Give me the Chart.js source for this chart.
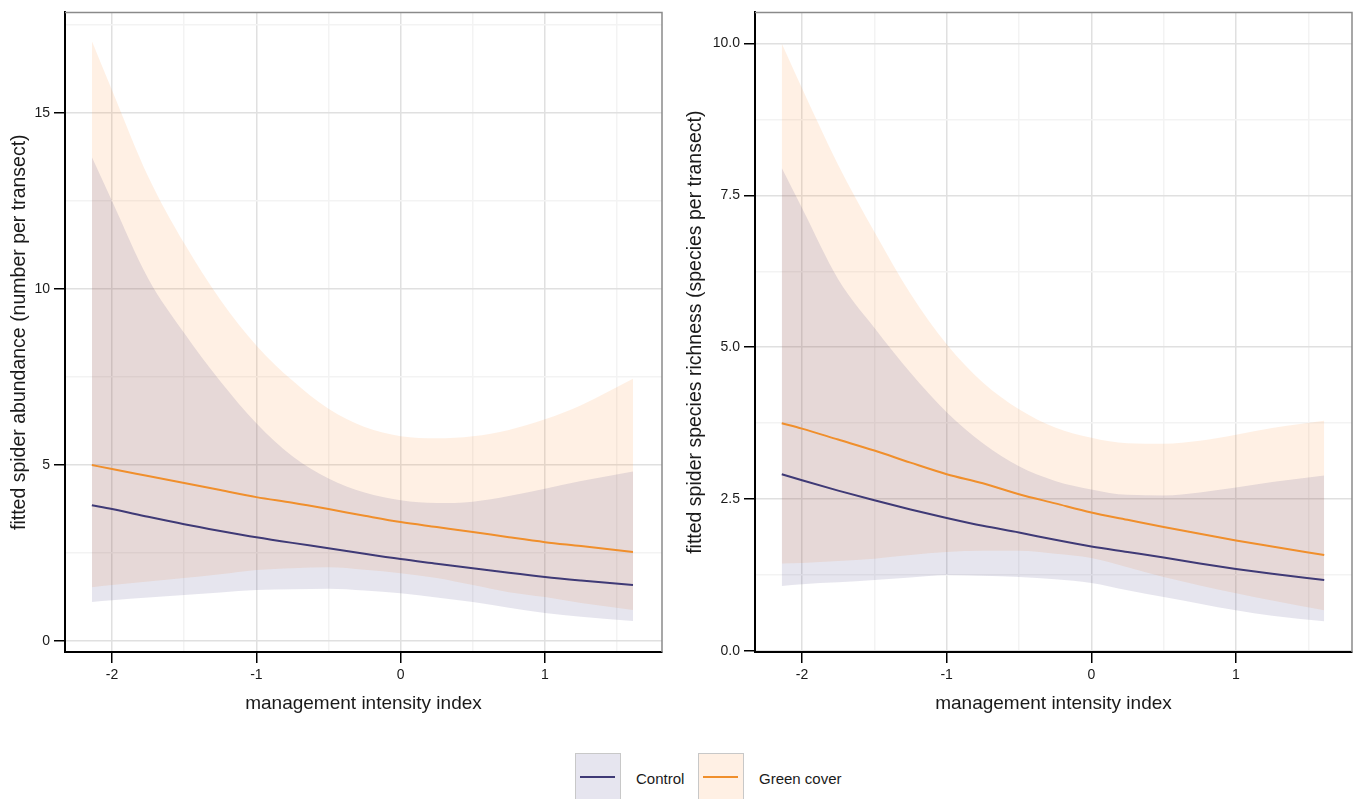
<!DOCTYPE html>
<html>
<head>
<meta charset="utf-8">
<script src="https://cdn.jsdelivr.net/npm/chart.js@4.4.1/dist/chart.umd.min.js"></script>
<style>
  body { margin:0; background:#fff; width:1362px; height:799px; overflow:hidden; position:relative; font-family:"Liberation Sans", Arial, sans-serif; }
  #c1 { position:absolute; left:0; top:0; }
  #c2 { position:absolute; left:680px; top:0; }
  .key { position:absolute; top:753px; width:46px; height:52px; box-sizing:border-box; border:1.5px solid #c8c8c8; }
  .key .ln { position:absolute; left:4px; width:35px; top:22px; height:2px; }
  .lab { position:absolute; top:770px; line-height:18px; font-size:15px; color:#1a1a1a; white-space:nowrap; }
</style>
</head>
<body>
<canvas id="c1" width="680" height="720"></canvas>
<canvas id="c2" width="682" height="720"></canvas>
<div class="key" id="k1" style="left:575px;"><div class="ln" id="k1l"></div></div>
<div class="lab" id="t1" style="left:636px;">Control</div>
<div class="key" id="k2" style="left:698px;"><div class="ln" id="k2l"></div></div>
<div class="lab" id="t2" style="left:759px;">Green cover</div>
<script>
// ---------- data ----------
const groups = ['Control', 'Green cover'];
const xValues = [-2.14, -2, -1.75, -1.5, -1.25, -1, -0.75, -0.5, -0.25, 0, 0.25, 0.5, 0.75, 1, 1.25, 1.61];

const xMajorTicks = [-2, -1, 0, 1];
const xMinorTicks = [-1.5, -0.5, 0.5, 1.5];
const xTickLabels = ['-2', '-1', '0', '1'];

// Left panel: abundance
const abundYMajorTicks = [0, 5, 10, 15];
const abundYMinorTicks = [2.5, 7.5, 12.5, 17.5];
const abundYTickLabels = ['0', '5', '10', '15'];
const abundControlFit   = [3.86, 3.75, 3.53, 3.32, 3.13, 2.95, 2.79, 2.64, 2.48, 2.33, 2.20, 2.07, 1.94, 1.82, 1.72, 1.59];
const abundControlLower = [1.11, 1.16, 1.24, 1.31, 1.38, 1.45, 1.47, 1.49, 1.44, 1.36, 1.24, 1.11, 0.95, 0.80, 0.69, 0.57];
const abundControlUpper = [13.75, 12.5, 10.3, 8.75, 7.38, 6.19, 5.25, 4.62, 4.22, 4.00, 3.92, 3.96, 4.12, 4.33, 4.55, 4.82];
const abundGreenFit     = [5.00, 4.89, 4.69, 4.49, 4.29, 4.09, 3.93, 3.75, 3.56, 3.38, 3.24, 3.10, 2.95, 2.81, 2.70, 2.53];
const abundGreenLower   = [1.53, 1.59, 1.69, 1.79, 1.90, 2.02, 2.07, 2.10, 2.03, 1.93, 1.79, 1.59, 1.39, 1.25, 1.08, 0.88];
const abundGreenUpper   = [17.05, 15.65, 13.2, 11.3, 9.70, 8.40, 7.40, 6.60, 6.08, 5.82, 5.76, 5.82, 6.00, 6.30, 6.70, 7.45];

// Right panel: species richness
const richYMajorTicks = [0, 2.5, 5, 7.5, 10];
const richYMinorTicks = [1.25, 3.75, 6.25, 8.75];
const richYTickLabels = ['0.0', '2.5', '5.0', '7.5', '10.0'];
const richControlFit   = [2.91, 2.81, 2.64, 2.48, 2.33, 2.19, 2.06, 1.95, 1.83, 1.72, 1.63, 1.54, 1.44, 1.35, 1.27, 1.17];
const richControlLower = [1.07, 1.10, 1.13, 1.17, 1.21, 1.25, 1.24, 1.22, 1.18, 1.12, 1.00, 0.89, 0.78, 0.67, 0.58, 0.49];
const richControlUpper = [7.95, 7.29, 6.12, 5.32, 4.58, 3.93, 3.42, 3.04, 2.80, 2.66, 2.57, 2.56, 2.61, 2.69, 2.78, 2.89];
const richGreenFit     = [3.75, 3.66, 3.48, 3.30, 3.10, 2.91, 2.76, 2.58, 2.43, 2.28, 2.16, 2.04, 1.93, 1.82, 1.72, 1.58];
const richGreenLower   = [1.44, 1.45, 1.48, 1.52, 1.58, 1.63, 1.65, 1.65, 1.60, 1.53, 1.38, 1.22, 1.08, 0.95, 0.83, 0.67];
const richGreenUpper   = [10.0, 9.26, 8.00, 6.90, 5.88, 5.05, 4.42, 3.98, 3.68, 3.51, 3.42, 3.41, 3.46, 3.56, 3.67, 3.79];

// ---------- styles ----------
const ctrlLine = '#3f3a76';
const ctrlBand = 'rgba(63,55,124,0.13)';
const greenLine = '#f08f2c';
const greenBand = 'rgba(255,140,47,0.13)';
const FONT = '"Liberation Sans", Arial, sans-serif';
const TXT = '#1a1a1a';

document.getElementById('k1').style.background = '#e6e5ef';
document.getElementById('k1l').style.background = ctrlLine;
document.getElementById('k2').style.background = '#fff0e4';
document.getElementById('k2l').style.background = greenLine;

function pts(ys) { return xValues.map((x, i) => ({ x: x, y: ys[i] })); }
function isIn(v, arr) { return arr.some(a => Math.abs(a - v) < 1e-6); }

const frame = {
  id: 'frame',
  afterDatasetsDraw(chart) {
    const a = chart.chartArea, ctx = chart.ctx;
    ctx.save();
    ctx.strokeStyle = '#8a8a8a';
    ctx.lineWidth = 1.5;
    ctx.beginPath();
    ctx.moveTo(a.left, a.top);
    ctx.lineTo(a.right, a.top);
    ctx.lineTo(a.right, a.bottom);
    ctx.stroke();
    ctx.restore();
  }
};

function makeChart(id, p) {
  const line = (d, c) => ({ data: pts(d), borderColor: c, borderWidth: 2, pointRadius: 0, fill: false, order: 0, cubicInterpolationMode: 'monotone' });
  const edge = (d, fill, bg) => ({ data: pts(d), borderColor: 'rgba(0,0,0,0)', borderWidth: 0, pointRadius: 0, fill: fill, backgroundColor: bg, order: 1, cubicInterpolationMode: 'monotone' });
  const xAll = xMajorTicks.concat(xMinorTicks).sort((a, b) => a - b);
  const yAll = p.yMajor.concat(p.yMinor).sort((a, b) => a - b);
  const gridColor = (majors) => (c) => (c.tick && isIn(c.tick.value, majors)) ? '#e0e0e0' : '#f3f3f3';
  const tickColor = (majors) => (c) => (c.tick && isIn(c.tick.value, majors)) ? '#000' : 'rgba(0,0,0,0)';
  return new Chart(document.getElementById(id), {
    type: 'line',
    data: {
      datasets: [
        line(p.cFit, ctrlLine),
        line(p.gFit, greenLine),
        edge(p.cLo, false, ctrlBand),
        edge(p.cHi, '-1', ctrlBand),
        edge(p.gLo, false, greenBand),
        edge(p.gHi, '-1', greenBand)
      ]
    },
    options: {
      responsive: false,
      animation: false,
      devicePixelRatio: 1,
      layout: { padding: { top: 11, right: p.padRight, left: 0, bottom: 0 } },
      plugins: { legend: { display: false }, tooltip: { enabled: false } },
      scales: {
        x: {
          type: 'linear', min: p.xMin, max: p.xMax,
          afterBuildTicks: s => { s.ticks = xAll.map(v => ({ value: v })); },
          afterFit: s => { s.height = 68; },
          ticks: {
            autoSkip: false, maxRotation: 0, padding: 4, color: TXT,
            font: { family: FONT, size: 14 },
            callback: v => { const i = xMajorTicks.findIndex(a => Math.abs(a - v) < 1e-6); return i >= 0 ? xTickLabels[i] : ''; }
          },
          grid: { color: gridColor(xMajorTicks), lineWidth: 1.5, drawTicks: true, tickLength: 11, tickWidth: 1.5, tickColor: tickColor(xMajorTicks) },
          border: { display: true, color: '#000', width: 2 },
          title: { display: true, text: 'management intensity index', color: TXT, font: { family: FONT, size: 19 }, padding: { top: 0, bottom: 5 } }
        },
        y: {
          type: 'linear', min: p.yMin, max: p.yMax,
          afterBuildTicks: s => { s.ticks = yAll.map(v => ({ value: v })); },
          afterFit: s => { s.width = p.yWidth; },
          ticks: {
            autoSkip: false, padding: 4, color: TXT,
            font: { family: FONT, size: 14 },
            callback: v => { const i = p.yMajor.findIndex(a => Math.abs(a - v) < 1e-6); return i >= 0 ? p.yLabels[i] : ''; }
          },
          grid: { color: gridColor(p.yMajor), lineWidth: 1.5, drawTicks: true, tickLength: 11, tickWidth: 1.5, tickColor: tickColor(p.yMajor) },
          border: { display: true, color: '#000', width: 2 },
          title: { display: true, text: p.yTitle, color: TXT, font: { family: FONT, size: 19.5 }, padding: { top: p.yTitlePad, bottom: 0 } }
        }
      }
    },
    plugins: [frame]
  });
}

makeChart('c1', {
  cFit: abundControlFit, cLo: abundControlLower, cHi: abundControlUpper,
  gFit: abundGreenFit, gLo: abundGreenLower, gHi: abundGreenUpper,
  xMin: -2.326, xMax: 1.811, yMin: -0.31, yMax: 17.86,
  yMajor: abundYMajorTicks, yMinor: abundYMinorTicks, yLabels: abundYTickLabels,
  yTitle: 'fitted spider abundance (number per transect)',
  yWidth: 65, padRight: 18, yTitlePad: 8
});

makeChart('c2', {
  cFit: richControlFit, cLo: richControlLower, cHi: richControlUpper,
  gFit: richGreenFit, gLo: richGreenLower, gHi: richGreenUpper,
  xMin: -2.325, xMax: 1.802, yMin: -0.016, yMax: 10.51,
  yMajor: richYMajorTicks, yMinor: richYMinorTicks, yLabels: richYTickLabels,
  yTitle: 'fitted spider species richness (species per transect)',
  yWidth: 75, padRight: 10, yTitlePad: 3.5
});
</script>
</body>
</html>
